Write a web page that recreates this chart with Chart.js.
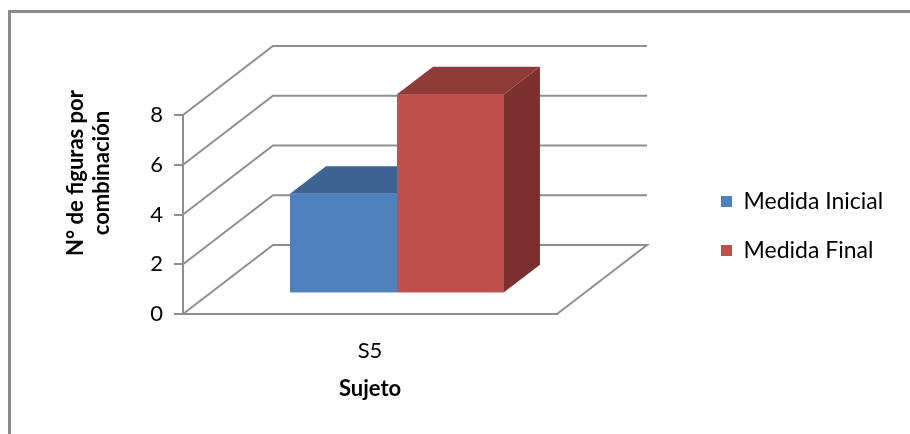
<!DOCTYPE html>
<html>
<head>
<meta charset="utf-8">
<script src="https://cdn.jsdelivr.net/npm/chart.js@4.4.1/dist/chart.umd.min.js"></script>
<style>
  html, body { margin: 0; padding: 0; background: #fff; }
</style>
</head>
<body>
<canvas id="sujetoGraph" width="910" height="434"></canvas>
<script>
let labels = ['S5'];
let seriesNames = ['Medida Inicial', 'Medida Final'];
let medidaInicial = [4];
let medidaFinal = [8];
let yTicks = [0, 2, 4, 6, 8];
let colorsFront = ['#4f81bd', '#c0504d'];
let colorsTop = ['#3c6392', '#903b38'];
let colorsSide = ['#34567f', '#7b302e'];

const gridColor = '#8f8f8f';
const fontFamily = 'Lato, "Open Sans", sans-serif';
const legendSize = 23;
// oblique depth of the floor and where the bars sit in it
const depth = { dx: 90, dy: -69, front: 0.3, back: 0.7 };

Chart.defaults.font.family = fontFamily;
Chart.defaults.color = '#000';

// legend width depends on the text, so measure it to keep the box at x=721
let m = document.createElement('canvas').getContext('2d');
m.font = legendSize + 'px ' + fontFamily;
let textW = Math.max(...seriesNames.map(s => m.measureText(s).width));
let padRight = Math.max(0, 179 - (11 + legendSize / 2 + textW));

const box3d = {
  id: 'box3d',
  beforeDraw(chart) {
    const ctx = chart.ctx;
    ctx.save();
    ctx.strokeStyle = '#8a8a8a';
    ctx.lineWidth = 3;
    ctx.strokeRect(9.5, 11.5, 940, 460);
    ctx.restore();
  },
  beforeDatasetsDraw(chart) {
    const { ctx, chartArea: a, scales: { y } } = chart;
    ctx.save();
    ctx.strokeStyle = gridColor;
    ctx.lineWidth = 2;
    y.ticks.forEach(t => {
      const py = y.getPixelForValue(t.value);
      ctx.beginPath();
      ctx.moveTo(a.left, py);
      ctx.lineTo(a.left + depth.dx, py + depth.dy);
      ctx.lineTo(a.right + depth.dx, py + depth.dy);
      if (t.value === 0) ctx.lineTo(a.right, py);
      ctx.stroke();
    });
    ctx.restore();
    ctx.save();
    ctx.translate(depth.dx * depth.front, depth.dy * depth.front);
  },
  afterDatasetsDraw(chart) {
    // painter's order left to right: top, side, then the library's front face again
    const ctx = chart.ctx;
    const bdx = depth.dx * (depth.back - depth.front);
    const bdy = depth.dy * (depth.back - depth.front);
    chart.data.datasets.forEach((ds, i) => {
      chart.getDatasetMeta(i).data.forEach(bar => {
        const { x, y, base, width } = bar.getProps(['x', 'y', 'base', 'width'], true);
        const l = x - width / 2, r = x + width / 2;
        ctx.fillStyle = colorsTop[i];
        ctx.beginPath();
        ctx.moveTo(l, y);
        ctx.lineTo(l + bdx, y + bdy);
        ctx.lineTo(r + bdx, y + bdy);
        ctx.lineTo(r, y);
        ctx.closePath();
        ctx.fill();
        ctx.fillStyle = colorsSide[i];
        ctx.beginPath();
        ctx.moveTo(r, y);
        ctx.lineTo(r + bdx, y + bdy);
        ctx.lineTo(r + bdx, base + bdy);
        ctx.lineTo(r, base);
        ctx.closePath();
        ctx.fill();
        bar.draw(ctx);
      });
    });
    ctx.restore();
  },
  afterDraw(chart) {
    // y axis title sits centred on the whole 3D wall, not only the front axis
    const { ctx, chartArea: a, scales: { y } } = chart;
    const lines = ['N° de figuras por', 'combinación'];
    const cy = (a.top + depth.dy + a.bottom) / 2 - 7;
    ctx.save();
    ctx.fillStyle = '#000';
    ctx.font = 'bold 22px ' + fontFamily;
    ctx.textAlign = 'center';
    ctx.textBaseline = 'middle';
    lines.forEach((txt, k) => {
      ctx.save();
      ctx.translate(y.left + 66 + k * 26, cy);
      ctx.rotate(-Math.PI / 2);
      ctx.fillText(txt, 0, 0);
      ctx.restore();
    });
    ctx.restore();
  }
};

let graph = new Chart(document.getElementById('sujetoGraph').getContext('2d'), {
  type: 'bar',
  data: {
    labels: labels,
    datasets: [
      { label: seriesNames[0], data: medidaInicial, backgroundColor: colorsFront[0], clip: false },
      { label: seriesNames[1], data: medidaFinal, backgroundColor: colorsFront[1], clip: false }
    ]
  },
  options: {
    responsive: false,
    animation: false,
    devicePixelRatio: 1,
    categoryPercentage: 0.572,
    barPercentage: 1,
    layout: { padding: { top: 20, right: padRight, bottom: 2, left: 10 } },
    plugins: {
      tooltip: { enabled: false },
      legend: {
        position: 'right',
        align: 'center',
        labels: {
          boxWidth: 11,
          boxHeight: 11,
          padding: 26,
          font: { size: legendSize }
        }
      }
    },
    scales: {
      x: {
        grid: { display: false, drawTicks: false },
        border: { color: gridColor, width: 2 },
        ticks: { font: { size: 22 }, padding: 24 },
        title: { display: true, text: 'Sujeto', font: { size: 22, weight: 'bold' }, padding: { top: 0, bottom: 30 } },
        afterFit: s => { s.height = 118; }
      },
      y: {
        min: yTicks[0],
        max: yTicks[yTicks.length - 1],
        ticks: { stepSize: yTicks[1] - yTicks[0], padding: 11, font: { size: 22 } },
        grid: { drawOnChartArea: false, tickLength: 9, color: gridColor, lineWidth: 2 },
        border: { color: gridColor, width: 2 },
        afterFit: s => { s.width = 173; }
      },
      // hidden spacers: room above the front axis and between the floor and the legend
      xTop: {
        type: 'linear', position: 'top', display: false,
        afterFit: s => { s.height = 95; }
      },
      yRight: {
        type: 'linear', position: 'right', display: false,
        afterFit: s => { s.width = 138; }
      }
    }
  },
  plugins: [box3d]
});
</script>
</body>
</html>
